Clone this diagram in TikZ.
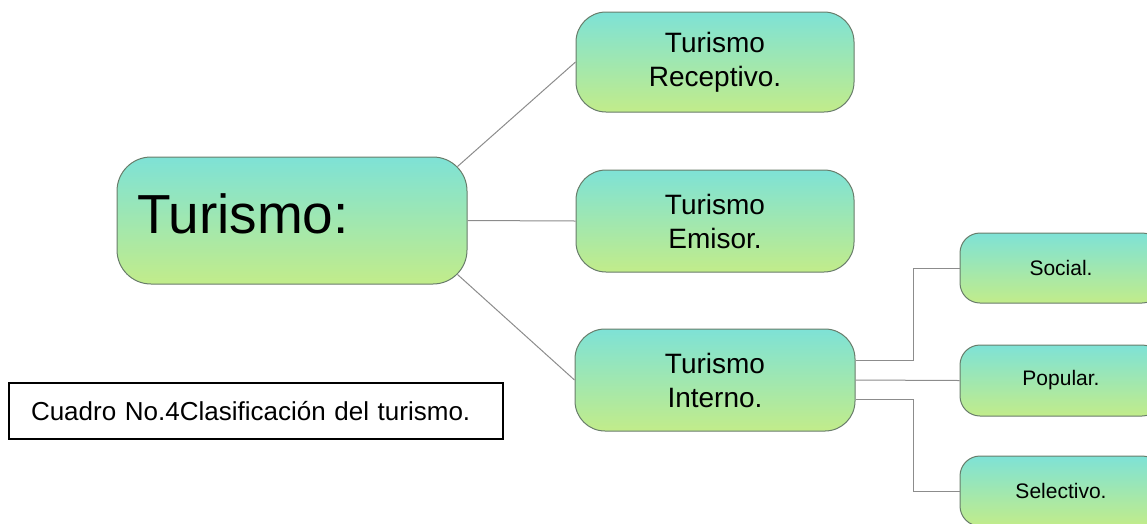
\documentclass[tikz,border=0pt]{standalone}
\usepackage{fontspec}
\setmainfont{Liberation Sans}
\usepackage{tikz}

\definecolor{boxtop}{HTML}{7EE2D6}
\definecolor{boxbottom}{HTML}{C2EC8A}
\definecolor{boxline}{HTML}{687C6A}
\definecolor{linkgray}{HTML}{8C8C8C}

\tikzset{
    topicbox/.style={draw=boxline, line width=1pt, rounded corners=30pt,
        top color=boxtop, bottom color=boxbottom, align=center,
        font=\fontsize{28}{34}\selectfont},
    leafbox/.style={draw=boxline, line width=1pt, rounded corners=20pt,
        top color=boxtop, bottom color=boxbottom, align=center,
        minimum width=202pt, minimum height=70pt,
        font=\fontsize{21}{25}\selectfont},
    link/.style={draw=linkgray, line width=1pt}
}

\begin{document}
\begin{tikzpicture}[x=1pt, y=-1pt]
        \pgfmathsetmacro{\sizeX}{1147}
        \pgfmathsetmacro{\sizeY}{523}

        \useasboundingbox (0, 0) rectangle (\sizeX, \sizeY);
        \clip (0, 0) rectangle (\sizeX, \sizeY);

        \node[topicbox, rounded corners=34pt, minimum width=350pt,
            minimum height=127pt, text width=310pt, align=left,
            font=\fontsize{55}{66}\selectfont, text depth=14pt]
            (turismo) at (292, 220.5) {Turismo:};

        \node[topicbox, minimum width=278pt, minimum height=100pt]
            (receptivo) at (715, 62) {Turismo\\Receptivo.};
        \node[topicbox, minimum width=278pt, minimum height=102pt]
            (emisor) at (715, 221) {Turismo\\Emisor.};
        \node[topicbox, minimum width=280pt, minimum height=102pt]
            (interno) at (715, 380) {Turismo\\Interno.};

        \node[leafbox] (social) at (1061, 268) {Social.};
        \node[leafbox, minimum height=71pt] (popular) at (1061, 380.5)
            {Popular.};
        \node[leafbox] (selectivo) at (1061, 491) {Selectivo.};

        \node[draw, line width=1.3pt, fill=white, minimum width=494pt,
            minimum height=56pt, text width=450pt, align=left,
            font=\fontsize{26}{31}\selectfont]
            (cuadro) at (256, 411) {Cuadro No.4Clasificación del turismo.};

        \coordinate (fork) at (913, 380);

        \draw[link] ([xshift=-10pt, yshift=-10pt]turismo.north east)
            -- (receptivo.west);
        \draw[link] (turismo.east) -- (emisor.west);
        \draw[link] ([xshift=-10pt, yshift=10pt]turismo.south east)
            -- (interno.west);

        \draw[link] ([yshift=20pt]interno.east)
            -- ([yshift=20pt]interno.east -| fork) |- (social.west);
        \draw[link] (interno.east) -- (popular.west);
        \draw[link] ([yshift=-19pt]interno.east)
            -- ([yshift=-19pt]interno.east -| fork) |- (selectivo.west);

    \end{tikzpicture}
\end{document}
